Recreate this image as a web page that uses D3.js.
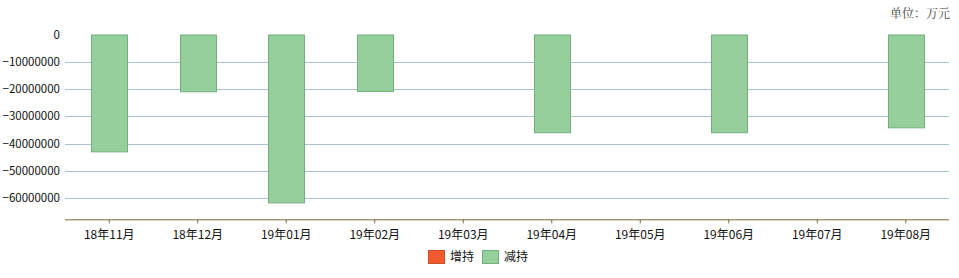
<!DOCTYPE html>
<html><head><meta charset="utf-8">
<script src="https://cdn.jsdelivr.net/npm/d3@7"></script>
<style>body{margin:0;background:#fff}svg{display:block}</style>
</head><body>
<script>
const categories = ["18年11月","18年12月","19年01月","19年02月","19年03月","19年04月","19年05月","19年06月","19年07月","19年08月"];
const increase = [0,0,0,0,0,0,0,0,0,0];
const decrease = [-42800000,-20800000,-61500000,-20700000,0,-35800000,0,-35800000,0,-34000000];
const yTicks = [0,-10000000,-20000000,-30000000,-40000000,-50000000,-60000000];
const legendLabels = ["增持","减持"];
const unitLabel = "单位：万元";

const W=959,H=278;
const svg=d3.select("body").append("svg").attr("width",W).attr("height",H);
const font='"Noto Sans CJK SC", "DejaVu Sans", sans-serif';

const x=d3.scaleBand().domain(categories).range([65,950]).paddingInner(0.59).paddingOuter(0.295);
const y=d3.scaleLinear().domain([0,-60000000]).range([34.5,198.3]);
const axisY=219.3;

// grid
svg.append("g").selectAll("line").data(yTicks.filter(d=>d!==0)).join("line")
  .attr("x1",65).attr("x2",949).attr("y1",d=>Math.round(y(d))+0.5).attr("y2",d=>Math.round(y(d))+0.5)
  .attr("stroke","#a9c4cc").attr("stroke-width",1);

// y labels
svg.append("g").selectAll("text").data(yTicks).join("text")
  .attr("x",60).attr("y",d=>y(d)).attr("dy","0.35em").attr("text-anchor","end")
  .attr("font-family",font).attr("font-size",11.5).attr("fill","#111")
  .text(d=>d3.format("d")(d));

// bars
svg.append("g").selectAll("rect").data(categories.map((c,i)=>({c,v:decrease[i]})).filter(d=>d.v!==0)).join("rect")
  .attr("x",d=>Math.round(x(d.c))+0.5).attr("width",Math.round(x.bandwidth()))
  .attr("y",y(0)+0.5).attr("height",d=>y(d.v)-y(0))
  .attr("fill","#95cf9c").attr("stroke","#74ae80").attr("stroke-width",1);

// x axis
const xa=svg.append("g").attr("transform",`translate(0,${axisY})`)
  .call(d3.axisBottom(x).tickSize(4).tickSizeOuter(0));
xa.select(".domain").attr("stroke","#7d6a3a").attr("d","M65,0.5H949");
xa.selectAll(".tick line").attr("stroke","#7d6a3a");
xa.selectAll(".tick text").attr("font-family",font).attr("font-size",12).attr("fill","#111").attr("dy","1.1em");

// legend
const leg=svg.append("g");
const lc=["#f45b2c","#95cf9c"], ls=["#c9502a","#74ae80"];
[[428,0],[482,1]].forEach(([lx,i])=>{
  leg.append("rect").attr("x",lx+0.5).attr("y",250.5).attr("width",16).attr("height",13).attr("fill",lc[i]).attr("stroke",ls[i]);
  leg.append("text").attr("x",lx+22).attr("y",257).attr("dy","0.35em").attr("font-family",font).attr("font-size",12).attr("fill","#111").text(legendLabels[i]);
});

// unit
svg.append("text").attr("x",950).attr("y",14).attr("dy","0.35em").attr("text-anchor","end")
  .attr("font-family",'"Noto Serif CJK SC","Noto Sans CJK SC",serif').attr("font-size",12).attr("fill","#444").text(unitLabel);
</script>
</body></html>
